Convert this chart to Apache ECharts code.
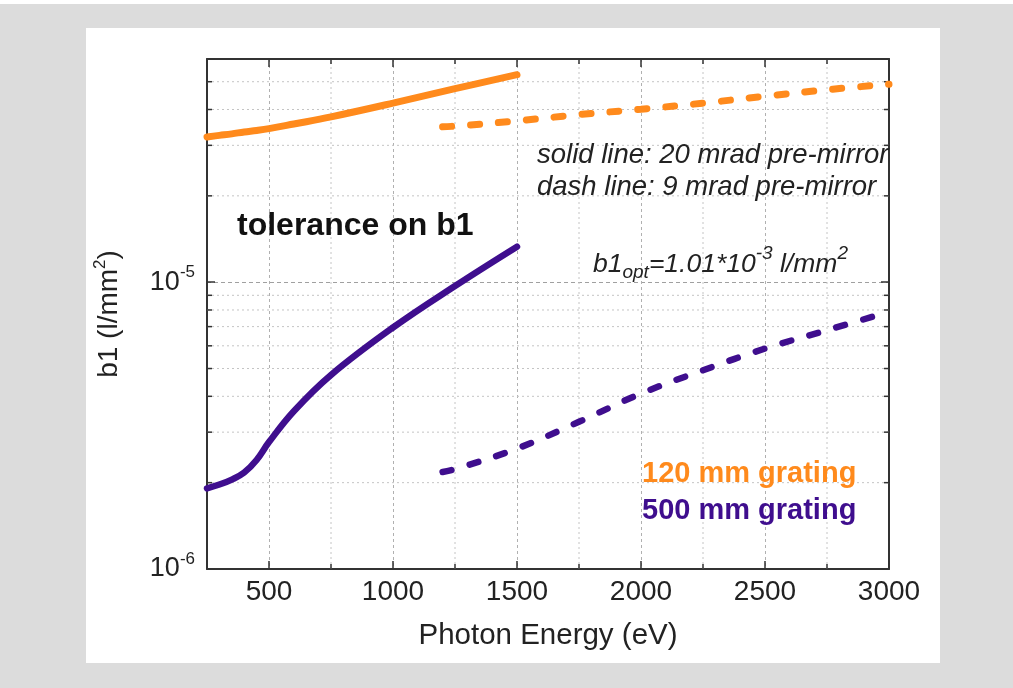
<!DOCTYPE html>
<html>
<head>
<meta charset="utf-8">
<script src="https://cdn.jsdelivr.net/npm/echarts@6/dist/echarts.min.js"></script>
<style>
  html, body { margin: 0; padding: 0; background: #fff; }
  #chart { width: 1013px; height: 688px; }
</style>
</head>
<body>
<div id="chart"></div>
<script>
// data (b1 tolerance in l/mm^2 vs photon energy in eV)
const solidEnergy = [250, 300, 350, 400, 450, 500, 600, 750, 1000, 1250, 1500];
const solid120 = [3.21e-5, 3.25e-5, 3.29e-5, 3.34e-5, 3.38e-5, 3.43e-5, 3.56e-5, 3.77e-5, 4.21e-5, 4.73e-5, 5.29e-5];
const solid500 = [1.91e-6, 1.97e-6, 2.05e-6, 2.17e-6, 2.40e-6, 2.77e-6, 3.55e-6, 4.75e-6, 6.95e-6, 9.70e-6, 1.33e-5];

const dashEnergy = [1200, 1250, 1500, 1750, 2000, 2250, 2500, 2750, 3000];
const dash120 = [3.48e-5, 3.50e-5, 3.65e-5, 3.84e-5, 4.01e-5, 4.21e-5, 4.45e-5, 4.69e-5, 4.90e-5];
const dash500 = [2.18e-6, 2.23e-6, 2.63e-6, 3.26e-6, 4.09e-6, 4.93e-6, 5.87e-6, 6.80e-6, 7.88e-6];

// axis ranges and minor ticks
const xRange = [250, 3000];
const yRange = [1e-6, 6e-5];
const xMinorTicks = [750, 1250, 1750, 2250, 2750];
const yMinorTicks = [2e-6, 3e-6, 4e-6, 5e-6, 6e-6, 7e-6, 8e-6, 9e-6, 2e-5, 3e-5, 4e-5, 5e-5];

const ORANGE = '#ff8a1c';
const PURPLE = '#3f0e8e';
const FONT = 'Liberation Sans, Arial, sans-serif';

const chart = echarts.init(document.getElementById('chart'), null, { renderer: 'canvas' });

function pairs(xs, ys) {
    return xs.map((x, i) => [x, ys[i]]);
}

function isPow10(v) {
    const l = Math.log10(v);
    return Math.abs(l - Math.round(l)) < 1e-6;
}

// minor grid lines + inward minor ticks on all four sides
function minorRender(params, api) {
    const kind = api.value(2);
    const v = kind === 0 ? api.value(1) : api.value(0);
    const tick = 5;
    const lineStyle = { stroke: '#c4c4c4', lineWidth: 1, lineDash: [2, 3] };
    const tickStyle = { stroke: '#333', lineWidth: 1.5 };
    if (kind === 0) {
        const a = api.coord([xRange[0], v]);
        const b = api.coord([xRange[1], v]);
        return { type: 'group', children: [
            { type: 'line', shape: { x1: a[0], y1: a[1], x2: b[0], y2: b[1] }, style: lineStyle },
            { type: 'line', shape: { x1: a[0], y1: a[1], x2: a[0] + tick, y2: a[1] }, style: tickStyle },
            { type: 'line', shape: { x1: b[0], y1: b[1], x2: b[0] - tick, y2: b[1] }, style: tickStyle }
        ] };
    }
    const a = api.coord([v, yRange[0]]);
    const b = api.coord([v, yRange[1]]);
    return { type: 'group', children: [
        { type: 'line', shape: { x1: a[0], y1: a[1], x2: b[0], y2: b[1] }, style: lineStyle },
        { type: 'line', shape: { x1: a[0], y1: a[1], x2: a[0], y2: a[1] - tick }, style: tickStyle },
        { type: 'line', shape: { x1: b[0], y1: b[1], x2: b[0], y2: b[1] + tick }, style: tickStyle }
    ] };
}

const minorData = yMinorTicks.map(v => [xRange[0], v, 0])
    .concat(xMinorTicks.map(v => [v, yRange[0], 1]));

const axisLineStyle = { color: '#333', width: 2 };

const option = {
    backgroundColor: '#dcdcdc',
    animation: false,
    grid: { left: 207, right: 124, top: 59, bottom: 119 },
    xAxis: [{
        type: 'value', min: xRange[0], max: xRange[1],
        name: 'Photon Energy (eV)', nameLocation: 'middle', nameGap: 52,
        nameTextStyle: { fontSize: 29.5, color: '#222', fontFamily: FONT },
        axisLine: { lineStyle: axisLineStyle },
        axisTick: { inside: true, length: 8, lineStyle: { color: '#333', width: 1.5 } },
        axisLabel: {
            fontSize: 28, color: '#222', fontFamily: FONT, margin: 9,
            formatter: v => (v % 500 === 0 ? String(v) : '')
        },
        splitLine: { show: true, lineStyle: { color: '#b0b0b0', type: [3, 3], width: 1 } }
    }, {
        type: 'value', min: xRange[0], max: xRange[1], position: 'top',
        axisLine: { lineStyle: axisLineStyle },
        axisTick: { inside: true, length: 8, lineStyle: { color: '#333', width: 1.5 } },
        axisLabel: { show: false },
        splitLine: { show: false }
    }],
    yAxis: [{
        type: 'log', logBase: 10, min: yRange[0], max: yRange[1],
        name: '{n|b1 (l/mm}{s|2}{n|)}', nameLocation: 'middle', nameGap: 80,
        nameTextStyle: {
            color: '#222', fontFamily: FONT,
            rich: {
                n: { fontSize: 28, color: '#222', fontFamily: FONT },
                s: { fontSize: 17, color: '#222', fontFamily: FONT, padding: [0, 0, 18, 0] }
            }
        },
        axisLine: { lineStyle: axisLineStyle },
        axisTick: { inside: true, length: 8, lineStyle: { color: '#333', width: 1.5 } },
        axisLabel: {
            margin: 12, fontFamily: FONT,
            formatter: v => {
                if (!isPow10(v)) return '';
                return '{b|10}{s|' + Math.round(Math.log10(v)) + '}';
            },
            rich: {
                b: { fontSize: 27, color: '#222', fontFamily: FONT },
                s: { fontSize: 17, color: '#222', fontFamily: FONT, padding: [0, 0, 20, 0] }
            }
        },
        splitLine: { show: true, lineStyle: { color: '#a0a0a0', type: [4, 3], width: 1 } }
    }, {
        type: 'log', logBase: 10, min: yRange[0], max: yRange[1], position: 'right',
        axisLine: { lineStyle: axisLineStyle },
        axisTick: { inside: true, length: 8, lineStyle: { color: '#333', width: 1.5 } },
        axisLabel: { show: false },
        splitLine: { show: false }
    }],
    graphic: [
        { type: 'rect', shape: { x: 0, y: 0, width: 1013, height: 4 }, style: { fill: '#fff' }, z: -10 },
        { type: 'rect', shape: { x: 86, y: 28, width: 854, height: 635 }, style: { fill: '#fff' }, z: -10 },
        { type: 'text', x: 237, y: 226, z: 100,
          style: { text: 'tolerance on b1', font: 'bold 32px ' + FONT, fill: '#111', verticalAlign: 'middle' } },
        { type: 'text', x: 537, y: 155, z: 100,
          style: { text: 'solid line: 20 mrad pre-mirror', font: 'italic 27.5px ' + FONT, fill: '#222', verticalAlign: 'middle' } },
        { type: 'text', x: 537, y: 187, z: 100,
          style: { text: 'dash line: 9 mrad pre-mirror', font: 'italic 27.5px ' + FONT, fill: '#222', verticalAlign: 'middle' } },
        { type: 'text', x: 593, y: 265, z: 100,
          style: {
              text: '{n|b1}{sub|opt}{n|=1.01*10}{sup|-3}{n| l/mm}{sup|2}',
              verticalAlign: 'middle',
              rich: {
                  n: { font: 'italic 26.5px ' + FONT, fill: '#222' },
                  sub: { font: 'italic 19px ' + FONT, fill: '#222', padding: [16, 0, 0, 0] },
                  sup: { font: 'italic 19px ' + FONT, fill: '#222', padding: [0, 0, 22, 0] }
              }
          } },
        { type: 'text', x: 642, y: 474, z: 100,
          style: { text: '120 mm grating', font: 'bold 29px ' + FONT, fill: ORANGE, verticalAlign: 'middle' } },
        { type: 'text', x: 642, y: 511, z: 100,
          style: { text: '500 mm grating', font: 'bold 29px ' + FONT, fill: PURPLE, verticalAlign: 'middle' } }
    ],
    series: [
        {
            type: 'custom', name: 'minor', renderItem: minorRender, data: minorData,
            z: 1, silent: true, clip: false
        },
        {
            type: 'line', name: '120 mm, 20 mrad', data: pairs(solidEnergy, solid120),
            showSymbol: false, smooth: 0.4, z: 5,
            lineStyle: { color: ORANGE, width: 7, cap: 'round' }
        },
        {
            type: 'line', name: '120 mm, 9 mrad', data: pairs(dashEnergy, dash120),
            showSymbol: false, smooth: 0.4, z: 5,
            lineStyle: { color: ORANGE, width: 7, type: [9, 19], cap: 'round' }
        },
        {
            type: 'line', name: '500 mm, 20 mrad', data: pairs(solidEnergy, solid500),
            showSymbol: false, smooth: 0.4, z: 5,
            lineStyle: { color: PURPLE, width: 6.5, cap: 'round' }
        },
        {
            type: 'line', name: '500 mm, 9 mrad', data: pairs(dashEnergy, dash500),
            showSymbol: false, smooth: 0.4, z: 5,
            lineStyle: { color: PURPLE, width: 6.5, type: [9, 19], cap: 'round' }
        }
    ]
};

chart.setOption(option);
</script>
</body>
</html>
